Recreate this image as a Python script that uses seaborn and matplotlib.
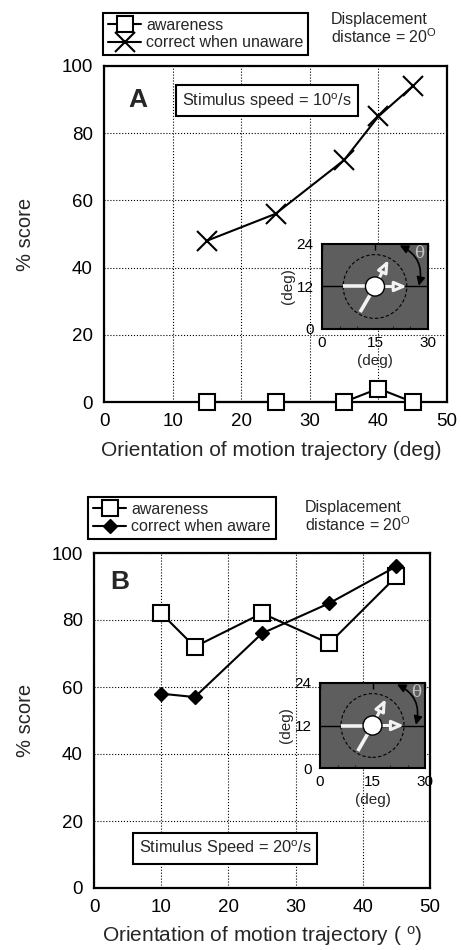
import numpy as np
import pandas as pd
import matplotlib
matplotlib.use('Agg')
import matplotlib.pyplot as plt
import seaborn as sns
from matplotlib.lines import Line2D
from matplotlib.patches import Circle
from matplotlib.ticker import MultipleLocator

# ---------------- data ----------------
orient_a = [15, 25, 35, 40, 45]
aware_a = [0, 0, 0, 4, 0]
correct_unaware_a = [48, 56, 72, 85, 94]

orient_b = [10, 15, 25, 35, 45]
aware_b = [82, 72, 82, 73, 93]
correct_aware_b = [58, 57, 76, 85, 96]

x_ticks = [0, 10, 20, 30, 40, 50]
y_ticks = [0, 20, 40, 60, 80, 100]
inset_xticks = [0, 15, 30]
inset_yticks = [0, 12, 24]

legend_a = ["awareness", "correct when unaware"]
legend_b = ["awareness", "correct when aware"]

# ---------------- style ----------------
sns.set_style('white')
plt.rcParams['font.family'] = ['Liberation Sans', 'DejaVu Sans']
plt.rcParams['mathtext.fontset'] = 'custom'
plt.rcParams['mathtext.rm'] = 'Liberation Sans'
plt.rcParams['mathtext.it'] = 'Liberation Sans:italic'
plt.rcParams['mathtext.bf'] = 'Liberation Sans:bold'

W, H = 461, 950
fig = plt.figure(figsize=(W / 100, H / 100), dpi=100)
fig.patch.set_facecolor('white')


def px_rect(l, t, r, b):
    return [l / W, 1 - b / H, (r - l) / W, (b - t) / H]


axA = fig.add_axes(px_rect(104, 66, 447, 402))
axB = fig.add_axes(px_rect(94, 553, 430, 888))

SQ = dict(color='black', marker='s', ms=11.5, mfc='white', mec='black',
          mew=1.5, lw=1.5)
XM = dict(color='black', marker='x', ms=14, mec='black', mew=1.5, lw=1.5)
DM = dict(color='black', marker='D', ms=6.8, mfc='black', mec='black',
          mew=1.0, lw=1.5)


def style_main(ax, xlabel, lab_x, lab_y, ylab_x):
    ax.set_xlim(0, 50)
    ax.set_ylim(0, 100)
    ax.set_xticks(x_ticks)
    ax.set_yticks(y_ticks)
    ax.xaxis.set_minor_locator(MultipleLocator(2))
    ax.yaxis.set_minor_locator(MultipleLocator(5))
    ax.tick_params(which='major', direction='in', length=6, width=1,
                   labelsize=13.5, pad=8, colors='black')
    ax.tick_params(which='minor', direction='in', length=3.5, width=0.9)
    ax.tick_params(top=False, right=False)
    ax.grid(True, which='major', linestyle=':', color='black', lw=0.8)
    ax.set_axisbelow(True)
    for s in ax.spines.values():
        s.set_visible(True)
        s.set_linewidth(1.6)
        s.set_color('black')
    ax.set_xlabel(xlabel, fontsize=15)
    ax.xaxis.label.set_va('center')
    ax.xaxis.set_label_coords(lab_x, lab_y)
    ax.set_ylabel('% score', fontsize=14.5)
    ax.yaxis.label.set_va('center')
    ax.yaxis.set_label_coords(ylab_x, 0.5)


def draw_inset(rect):
    ins = fig.add_axes(rect)
    bg = '#5e5e5e'
    ins.set_facecolor(bg)
    ins.set_xlim(0, 30)
    ins.set_ylim(0, 24)
    ins.set_xticks(inset_xticks)
    ins.set_yticks(inset_yticks)
    ins.xaxis.set_minor_locator(MultipleLocator(5))
    ins.tick_params(which='major', direction='in', length=4, width=1,
                    labelsize=11, top=True, right=False, colors='black')
    ins.tick_params(axis='x', pad=5)
    ins.tick_params(axis='y', pad=6)
    ins.tick_params(which='minor', direction='in', length=2, width=0.8,
                    top=False, bottom=True)
    for s in ins.spines.values():
        s.set_linewidth(1.5)
        s.set_color('black')
    ins.set_xlabel('(deg)', fontsize=11, labelpad=3)
    ins.set_ylabel('(deg)', fontsize=11, labelpad=1)
    ins.axhline(12, color='black', lw=1.0, zorder=1)
    ins.add_patch(Circle((15, 12), 9.0, fill=False, ls=(0, (3, 2)),
                         ec='black', lw=0.8, zorder=2))
    ins.plot([5.9, 15], [12, 12], color='#f2f2f2', lw=2.6, zorder=3,
             solid_capstyle='butt')
    ins.plot([10.8, 15], [4.8, 12], color='#f2f2f2', lw=2.6, zorder=3,
             solid_capstyle='butt')
    ap = dict(arrowstyle='-|>,head_length=0.7,head_width=0.3',
              ec='#f2f2f2', fc=bg, lw=2.2, shrinkA=0, shrinkB=0)
    ins.annotate('', xy=(24.0, 12), xytext=(15, 12), arrowprops=ap,
                 zorder=3)
    ins.annotate('', xy=(18.8, 19.5), xytext=(15, 12), arrowprops=ap,
                 zorder=3)
    ins.add_patch(Circle((15, 12), 2.7, fc='white', ec='black', lw=1.0,
                         zorder=5))
    ins.annotate('', xy=(27.4, 12.2), xytext=(22.0, 23.6),
                 arrowprops=dict(arrowstyle='<|-|>,head_length=0.5,head_width=0.25',
                                 color='black', lw=1.2,
                                 connectionstyle='arc3,rad=-0.4',
                                 shrinkA=0, shrinkB=0), zorder=6)
    ins.text(27.6, 21.3, 'θ', color='#c4c4c4', fontsize=12,
             family='DejaVu Serif', ha='center', va='center')
    return ins


# ---------------- panel A ----------------
sns.lineplot(x=orient_a, y=correct_unaware_a, ax=axA, zorder=5, **XM)
sns.lineplot(x=orient_a, y=aware_a, ax=axA, clip_on=False, zorder=6, **SQ)
style_main(axA, 'Orientation of motion trajectory (deg)', 0.487, -0.143,
           -0.229)
axA.text(0.10, 0.90, 'A', transform=axA.transAxes, fontsize=19,
         fontweight='bold', ha='center', va='center')
axA.text(0.475, 0.896, 'Stimulus speed = 10$^{\\mathrm{o}}$/s',
         transform=axA.transAxes, fontsize=11.8, ha='center', va='center',
         bbox=dict(boxstyle='square,pad=0.35', fc='white', ec='black', lw=1.5))

h_a = [Line2D([], [], **SQ), Line2D([], [], **XM)]
legA = fig.legend(h_a, legend_a, loc='upper left',
                  bbox_to_anchor=(103 / W, 1 - 13 / H), frameon=True,
                  fancybox=False, edgecolor='black', framealpha=1,
                  fontsize=11.5, handlelength=2.1, borderpad=0.3,
                  labelspacing=0.15, handletextpad=0.3, borderaxespad=0)
legA.get_frame().set_linewidth(1.5)
fig.text(331 / W, 1 - 12 / H, 'Displacement\ndistance = 20$^{\\mathrm{O}}$',
         fontsize=11.5, va='top', ha='left', linespacing=1.05)

draw_inset(px_rect(322, 244, 428, 329))

# ---------------- panel B ----------------
sns.lineplot(x=orient_b, y=aware_b, ax=axB, zorder=5, **SQ)
sns.lineplot(x=orient_b, y=correct_aware_b, ax=axB, zorder=6, **DM)
style_main(axB, 'Orientation of motion trajectory ( $^{\\mathrm{o}}$)', 0.5,
           -0.143, -0.204)
axB.text(0.077, 0.913, 'B', transform=axB.transAxes, fontsize=19,
         fontweight='bold', ha='center', va='center')
axB.text(0.39, 0.119, 'Stimulus Speed = 20$^{\\mathrm{o}}$/s',
         transform=axB.transAxes, fontsize=11.8, ha='center', va='center',
         bbox=dict(boxstyle='square,pad=0.35', fc='white', ec='black', lw=1.5))

h_b = [Line2D([], [], **SQ), Line2D([], [], **DM)]
legB = fig.legend(h_b, legend_b, loc='upper left',
                  bbox_to_anchor=(88 / W, 1 - 497 / H), frameon=True,
                  fancybox=False, edgecolor='black', framealpha=1,
                  fontsize=11.5, handlelength=2.1, borderpad=0.3,
                  labelspacing=0.15, handletextpad=0.3, borderaxespad=0)
legB.get_frame().set_linewidth(1.5)
fig.text(305 / W, 1 - 500 / H, 'Displacement\ndistance = 20$^{\\mathrm{O}}$',
         fontsize=11.5, va='top', ha='left', linespacing=1.05)

draw_inset(px_rect(320, 683, 425, 768))

fig.savefig('out.png', dpi=100)
